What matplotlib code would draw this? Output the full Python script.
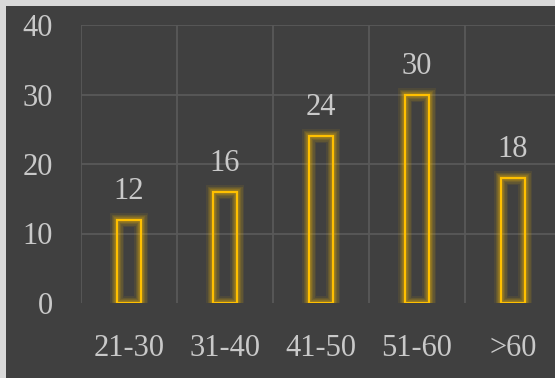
import matplotlib
matplotlib.use("Agg")
import matplotlib.pyplot as plt
from matplotlib.patches import Rectangle
import numpy as np

# data
categories = ["21-30", "31-40", "41-50", "51-60", ">60"]
values = [12, 16, 24, 30, 18]
y_ticks = [0, 10, 20, 30, 40]

BG = "#404040"
GRID = "#595959"
TEXT = "#c9c9c9"
GOLD = "#ffc000"

plt.rcParams["font.family"] = ["Liberation Serif", "DejaVu Serif"]

W, H = 555, 378
fig = plt.figure(figsize=(W / 100, H / 100), dpi=100)
fig.patch.set_facecolor("#d9d9d9")
# dark chart area, leaving a thin light border at top and left
fig.add_artist(Rectangle((6 / W, 0), 1, 1 - 6 / H, transform=fig.transFigure,
                         facecolor=BG, edgecolor="none", zorder=-10))

ax = fig.add_axes([81 / W, 1 - 303 / H, 480 / W, 278 / H])
ax.set_facecolor(BG)
ax.patch.set_alpha(0)

x = np.arange(len(categories))
width = 0.26

# glow
for lw, a in [(10, 0.08), (8, 0.1), (6, 0.13), (4, 0.2)]:
    ax.bar(x, values, width=width, facecolor="none", edgecolor=GOLD,
           linewidth=lw, alpha=a, zorder=2)
ax.bar(x, values, width=width, facecolor="none", edgecolor=GOLD,
       linewidth=1.6, zorder=3)

for xi, v in zip(x, values):
    ax.annotate(str(v), (xi, v), xytext=(0, 10), textcoords="offset points",
                ha="center", va="bottom", color=TEXT, fontsize=22)

ax.set_xlim(-0.5, len(categories) - 0.5)
ax.set_ylim(0, 40)
ax.set_xticks(x)
ax.set_xticklabels(categories)
ax.set_yticks(y_ticks)
ax.set_xticks(np.arange(len(categories)) - 0.5, minor=True)

ax.tick_params(axis="both", which="both", length=0, colors=TEXT, labelsize=22)
ax.tick_params(axis="y", pad=20)
ax.tick_params(axis="x", pad=22)

ax.yaxis.grid(True, color=GRID, linewidth=1.3)
ax.xaxis.grid(True, which="minor", color=GRID, linewidth=1.3)
ax.xaxis.grid(False, which="major")
ax.yaxis.get_gridlines()[0].set_visible(False)
ax.set_axisbelow(True)
for s in ax.spines.values():
    s.set_visible(False)

fig.savefig("out.png", dpi=100, facecolor=fig.get_facecolor())
